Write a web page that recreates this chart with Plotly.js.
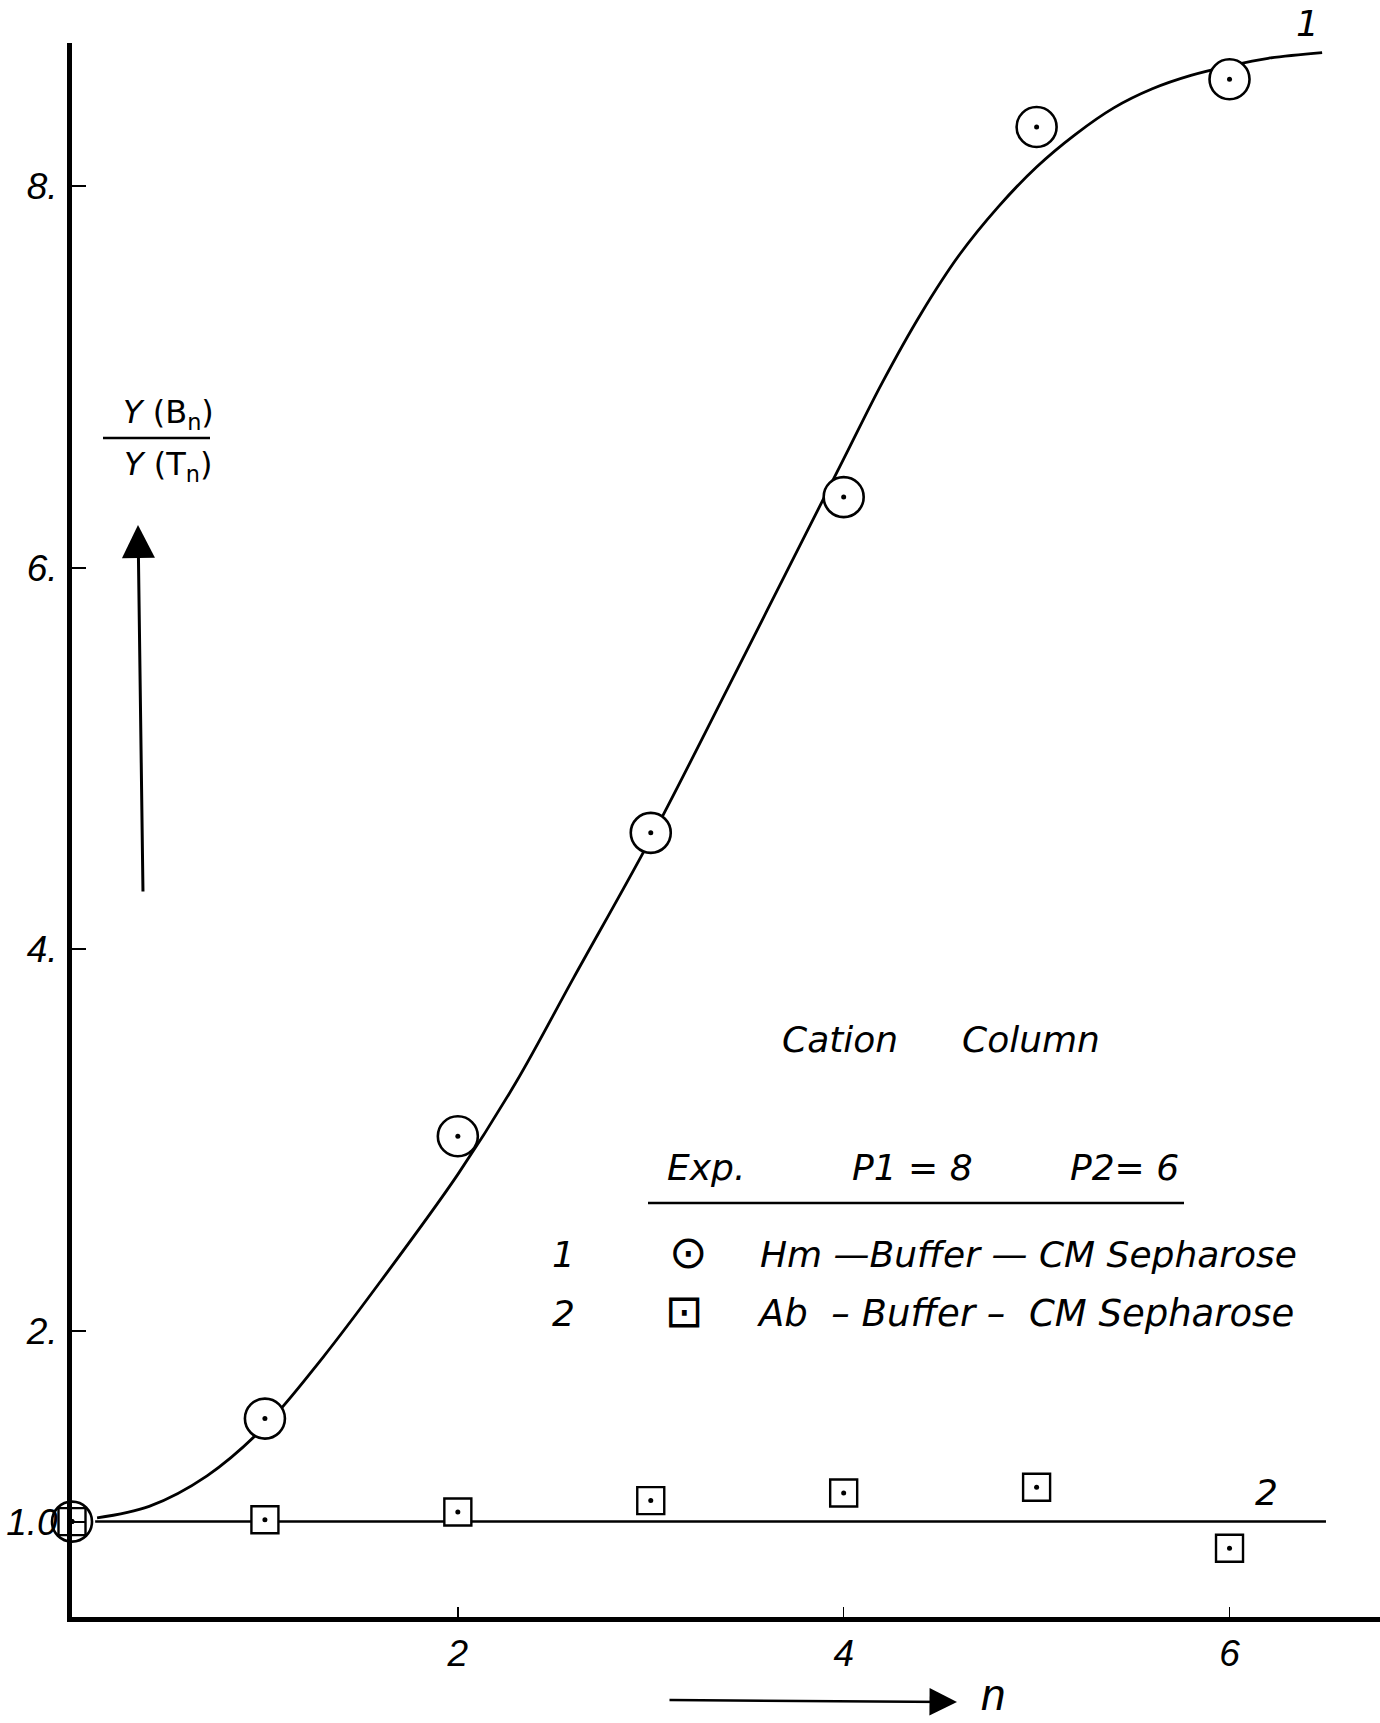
<!DOCTYPE html>
<html>
<head>
<meta charset="utf-8">
<script src="https://cdn.plot.ly/plotly-3.0.1.min.js"></script>
<style>html,body{margin:0;padding:0;background:#fff;}#chart{width:1380px;height:1723px;}</style>
</head>
<body>
<div id="chart"></div>
<script>
// ---- data ----
// Exp. 1 (circles): Hm - Buffer - CM Sepharose
var nValues = [0, 1, 2, 3, 4, 5, 6];
var ratioExp1 = [1.00, 1.54, 3.02, 4.61, 6.37, 8.31, 8.56];
// Exp. 2 (squares): Ab - Buffer - CM Sepharose
var ratioExp2 = [1.00, 1.01, 1.05, 1.11, 1.15, 1.18, 0.86];
// hand-drawn curve 1
var curve1X = [0.13, 0.4, 0.7, 1.0, 1.3, 1.6, 2.0, 2.3, 2.6, 3.0, 3.4, 3.7, 4.0, 4.2, 4.4, 4.6, 4.8, 5.0, 5.2, 5.4, 5.6, 5.8, 6.0, 6.2, 6.48];
var curve1Y = [1.02, 1.08, 1.24, 1.50, 1.86, 2.26, 2.82, 3.30, 3.85, 4.58, 5.37, 5.97, 6.57, 6.97, 7.33, 7.64, 7.89, 8.10, 8.27, 8.41, 8.51, 8.58, 8.63, 8.67, 8.70];
// line 2
var line2X = [0.12, 6.5];
var line2Y = [1.0, 1.0];
// axis ticks
var yTickVals = [1, 2, 4, 6, 8];
var yTickText = ['1.0', '2.', '4.', '6.', '8.'];
var xTickVals = [2, 4, 6];
var xTickText = ['2', '4', '6'];

// ---- layout helpers ----
var L = 72, T = 43, W = 1308, H = 1574;
function px(x) { return (x - L) / W; }
function py(y) { return (T + H - y) / H; }
var handFont = {family: 'DejaVu Sans, sans-serif', size: 36, color: '#000', style: 'italic'};
var xTickFont = {family: 'Liberation Sans, Arial, sans-serif', size: 37, color: '#000', style: 'italic'};
var yTickFont = {family: 'Liberation Sans, Arial, sans-serif', size: 37, color: '#000', style: 'italic'};
function txt(t, x, y, font, anchor) {
  return {text: t, xref: 'paper', yref: 'paper', x: px(x), y: py(y), showarrow: false,
          xanchor: anchor || 'center', yanchor: 'middle', font: font || handFont};
}
var symFont = {family: 'DejaVu Sans, sans-serif', size: 46, color: '#000'};

var traces = [
  {x: line2X, y: line2Y, mode: 'lines', line: {color: '#000', width: 2.5}, cliponaxis: false, hoverinfo: 'skip'},
  {x: curve1X, y: curve1Y, mode: 'lines', line: {color: '#000', width: 2.8, shape: 'spline', smoothing: 1}, cliponaxis: false, hoverinfo: 'skip'},
  {x: nValues, y: ratioExp1, mode: 'markers', cliponaxis: false,
   marker: {symbol: 'circle', size: 40, color: '#fff', line: {color: '#000', width: 2.6}}},
  {x: nValues, y: ratioExp2, mode: 'markers', cliponaxis: false,
   marker: {symbol: 'square', size: 27, color: '#fff', line: {color: '#000', width: 2.4}}},
  {x: nValues, y: ratioExp1, mode: 'markers', cliponaxis: false,
   marker: {symbol: 'circle', size: 5, color: '#000'}},
  {x: nValues, y: ratioExp2, mode: 'markers', cliponaxis: false,
   marker: {symbol: 'circle', size: 5, color: '#000'}}
];

var layout = {
  width: 1380, height: 1723,
  margin: {l: L, r: 0, t: T, b: 1723 - T - H, pad: 0},
  paper_bgcolor: '#fff', plot_bgcolor: '#fff',
  showlegend: false,
  xaxis: {range: [0, 6.78], showgrid: false, zeroline: false, showline: true, linecolor: '#000', linewidth: 5,
          ticks: 'inside', ticklen: 10, tickwidth: 1.5, tickcolor: '#000',
          tickvals: xTickVals, ticktext: xTickText, tickfont: xTickFont, ticklabelstandoff: 0},
  yaxis: {range: [0.5, 8.75], showgrid: false, zeroline: false, showline: true, linecolor: '#000', linewidth: 5,
          ticks: 'inside', ticklen: 14, tickwidth: 2, tickcolor: '#000',
          tickvals: yTickVals, ticktext: yTickText, tickfont: yTickFont, ticklabelstandoff: 2},
  shapes: [
    {type: 'line', xref: 'paper', yref: 'paper', x0: px(648), x1: px(1184), y0: py(1203), y1: py(1203), line: {color: '#000', width: 2.5}},
    {type: 'line', xref: 'paper', yref: 'paper', x0: px(103), x1: px(210), y0: py(438), y1: py(438), line: {color: '#000', width: 2.5}}
  ],
  annotations: [
    txt('Cation', 840, 1039),
    txt('Column', 1031, 1039),
    txt('Exp.', 706, 1167),
    txt('P1 = 8', 912, 1167),
    txt('P2= 6', 1124, 1167),
    txt('1', 563, 1254),
    txt('\u2299', 688, 1252, symFont),
    txt('Hm \u2014Buffer \u2014 CM Sepharose', 758, 1254, handFont, 'left'),
    txt('2', 563, 1313),
    txt('\u22A1', 684, 1311, symFont),
    txt('Ab  \u2013 Buffer \u2013  CM Sepharose', 755, 1313, {family: 'DejaVu Sans, sans-serif', size: 37, color: '#000', style: 'italic'}, 'left'),
    txt('1', 1307, 24),
    txt('2', 1266, 1492),
    txt('<i>Y</i> (B<sub>n</sub>)', 168, 414, {family: 'DejaVu Sans, sans-serif', size: 32, color: '#000'}),
    txt('<i>Y</i> (T<sub>n</sub>)', 168, 466, {family: 'DejaVu Sans, sans-serif', size: 32, color: '#000'}),
    txt('n', 993, 1694, {family: 'Liberation Sans, sans-serif', size: 44, color: '#000', style: 'italic'}),
    {text: '', xref: 'paper', yref: 'paper', x: px(138), y: py(525), showarrow: true, ax: 5, ay: 368,
     arrowhead: 2, arrowsize: 2.2, arrowwidth: 3, arrowcolor: '#000', standoff: 0, startstandoff: 0},
    {text: '', xref: 'paper', yref: 'paper', x: px(957), y: py(1702), showarrow: true, ax: -289, ay: -2,
     arrowhead: 2, arrowsize: 2.2, arrowwidth: 2.5, arrowcolor: '#000', standoff: 0, startstandoff: 0}
  ]
};

Plotly.newPlot('chart', traces, layout, {displayModeBar: false, staticPlot: true});
</script>
</body>
</html>
